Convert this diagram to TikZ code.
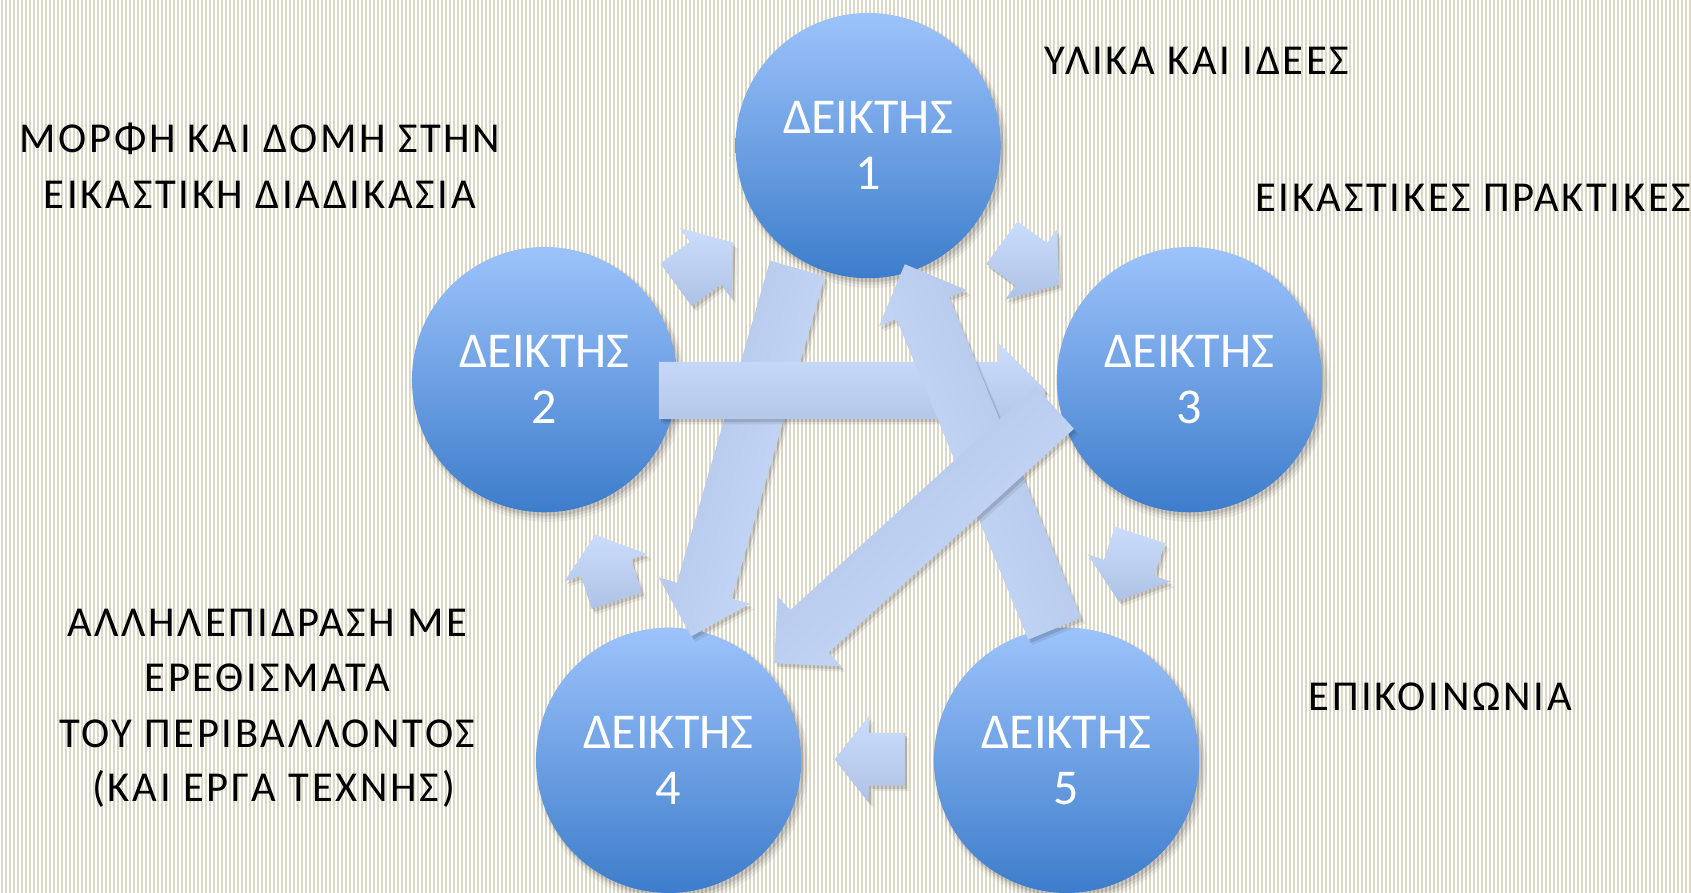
\documentclass[tikz,border=0pt]{standalone}
\usepackage{fontspec}
\setmainfont{Carlito}
\newfontfamily\lblfont[LetterSpace=6.3]{Carlito}
\usetikzlibrary{calc}
\definecolor{stripe}{RGB}{221,216,196}
\definecolor{ctop}{RGB}{157,195,251}
\definecolor{cbot}{RGB}{61,125,203}
\definecolor{alight}{RGB}{203,221,251}
\definecolor{adark}{RGB}{174,194,230}
\newcommand{\blockarrow}[7]{%
  \coordinate (#1t) at (#2);
  \coordinate (#1p) at (#3);
  \coordinate (#1h) at ($(#1p)!#6!(#1t)$);
  \coordinate (#1a) at ($(#1t)!#4!90:(#1p)$);
  \coordinate (#1b) at ($(#1h)!#4!90:(#1p)$);
  \coordinate (#1c) at ($(#1h)!#5!90:(#1p)$);
  \coordinate (#1d) at ($(#1h)!#5!-90:(#1p)$);
  \coordinate (#1e) at ($(#1h)!#4!-90:(#1p)$);
  \coordinate (#1f) at ($(#1t)!#4!-90:(#1p)$);
  \begin{scope}[transform canvas={shift={(4pt,-5pt)}}]
    \fill[black,opacity=.07] (#1a)--(#1b)--(#1c)--(#1p)--(#1d)--(#1e)--(#1f)--cycle;
  \end{scope}
  \begin{scope}[transform canvas={shift={(2pt,-3pt)}}]
    \fill[black,opacity=.12] (#1a)--(#1b)--(#1c)--(#1p)--(#1d)--(#1e)--(#1f)--cycle;
  \end{scope}
  \path[#7] (#1a)--(#1b)--(#1c)--(#1p)--(#1d)--(#1e)--(#1f)--cycle;
}
\tikzset{
  bubble/.style={circle, minimum size=246pt, inner sep=0pt, top color=ctop, bottom color=cbot,
    text=white, align=center, font=\fontsize{46.5}{52}\selectfont},
  lbl/.style={inner sep=0pt, anchor=base, text=black, font=\lblfont\fontsize{39.5}{47}\selectfont},
  smallfill/.style={top color=alight, bottom color=adark},
}
\begin{document}
\begin{tikzpicture}[x=1pt,y=-1pt]
\useasboundingbox (0,0) rectangle (1568,828);
\fill[white] (0,0) rectangle (1568,828);
\foreach \i in {0,...,422} \fill[stripe] ({\i*3.709+1.2},0) rectangle ++(1.85,828);

% circle positions
\coordinate (p1) at (805,135);
\coordinate (p2) at (505,352);
\coordinate (p3) at (1103,352);
\coordinate (p4) at (620,705);
\coordinate (p5) at (989,705);
\foreach \k in {1,...,5}{
  \fill[black,opacity=.05] ($(p\k)+(3,5)$) circle (127);
  \fill[black,opacity=.07] ($(p\k)+(3,4)$) circle (125);
  \fill[black,opacity=.09] ($(p\k)+(2,3)$) circle (123.5);
}
\node[bubble] (c1) at (p1) {ΔΕΙΚΤΗΣ\\1};
\node[bubble] (c2) at (p2) {ΔΕΙΚΤΗΣ\\2};
\node[bubble] (c3) at (p3) {ΔΕΙΚΤΗΣ\\3};
\node[bubble] (c4) at (p4) {ΔΕΙΚΤΗΣ\\4};
\node[bubble] (c5) at (p5) {ΔΕΙΚΤΗΣ\\5};

% small cycle arrows
\blockarrow{s21}{627,264}{680,225}{24.5pt}{40.5pt}{32pt}{smallfill}
\blockarrow{s13}{929,225}{982,264}{24.5pt}{40.5pt}{32pt}{smallfill}
\blockarrow{s35}{1057,496}{1037,557}{24.5pt}{40.5pt}{32pt}{smallfill}
\blockarrow{s54}{839,704}{774,704}{24.5pt}{40.5pt}{32pt}{smallfill}
\blockarrow{s42}{572,557}{552,496}{24.5pt}{40.5pt}{32pt}{smallfill}

% big arrows
\blockarrow{a14}{739.5,249}{641,590}{26.5pt}{44pt}{44pt}{top color=alight, bottom color=adark, shading angle=-106.5}
\blockarrow{a23}{611,362}{970,362}{26.5pt}{44pt}{44pt}{top color=alight, bottom color=adark, shading angle=0}
\blockarrow{a51}{978,583}{839,245}{26.5pt}{44pt}{44pt}{top color=alight, bottom color=adark, shading angle=112.4}
\blockarrow{a34}{978,378}{718,615}{26.5pt}{44pt}{44pt}{top color=alight, bottom color=adark, shading angle=222.3}

% labels
\node[lbl] (l1) at (1110,69) {ΥΛΙΚΑ ΚΑΙ ΙΔΕΕΣ};
\node[lbl] (l2a) at (241,141.5) {ΜΟΡΦΗ ΚΑΙ ΔΟΜΗ ΣΤΗΝ};
\node[lbl] (l2b) at (241,193.5) {ΕΙΚΑΣΤΙΚΗ ΔΙΑΔΙΚΑΣΙΑ};
\node[lbl] (l3) at (1366,196.5) {ΕΙΚΑΣΤΙΚΕΣ ΠΡΑΚΤΙΚΕΣ};
\node[lbl] (l4a) at (248,590.5) {ΑΛΛΗΛΕΠΙΔΡΑΣΗ ΜΕ};
\node[lbl] (l4b) at (248,641.5) {ΕΡΕΘΙΣΜΑΤΑ};
\node[lbl] (l4c) at (248,693.5) {ΤΟΥ ΠΕΡΙΒΑΛΛΟΝΤΟΣ};
\node[lbl] (l4d) at (248,743.5) {\ (ΚΑΙ ΕΡΓΑ ΤΕΧΝΗΣ)};
\node[lbl] (l5) at (1335.5,658.5) {ΕΠΙΚΟΙΝΩΝΙΑ};
\end{tikzpicture}
\end{document}
